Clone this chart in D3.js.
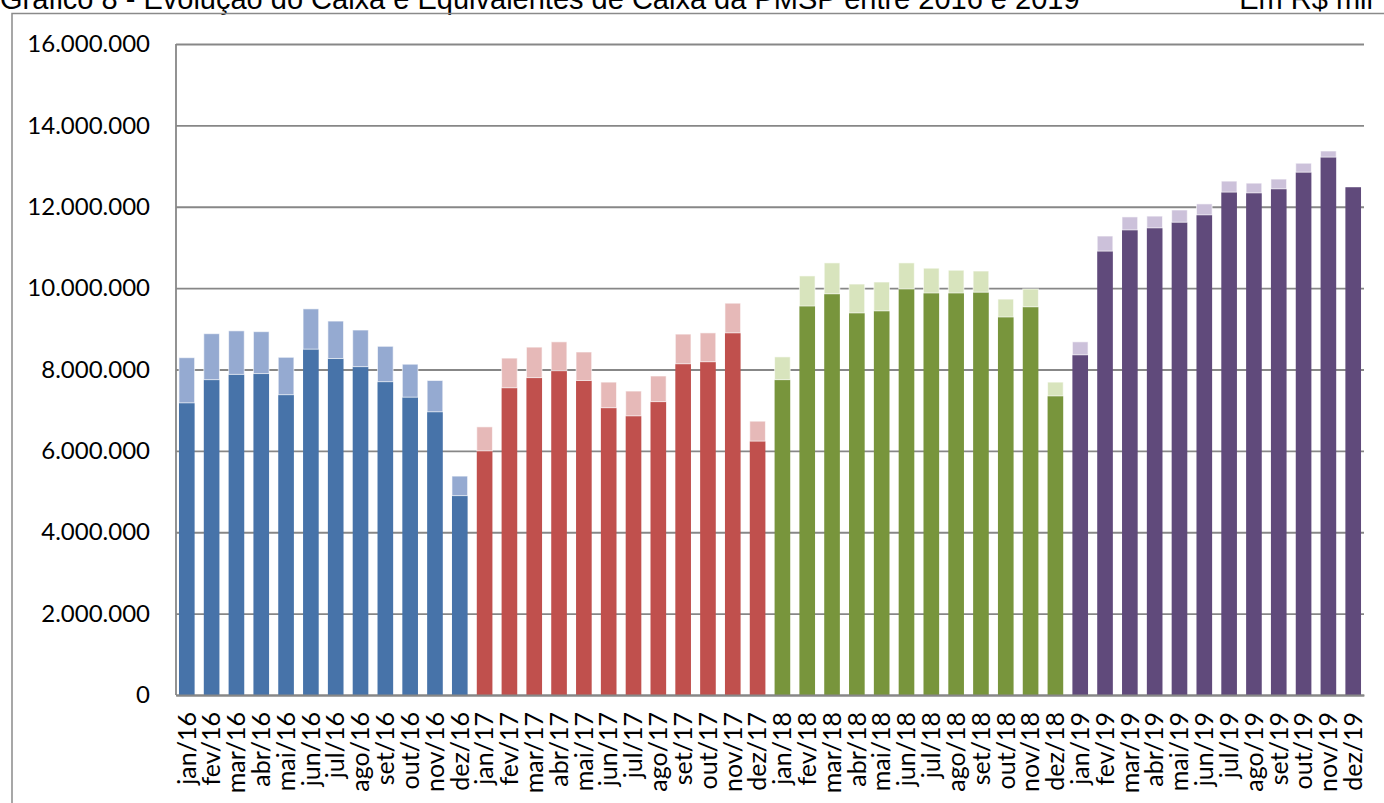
<!DOCTYPE html>
<html>
<head>
<meta charset="utf-8">
<script src="https://cdn.jsdelivr.net/npm/d3@7"></script>
<style>
  body { margin: 0; background: #fff; }
  svg { display: block; }
</style>
</head>
<body>
<div id="chart"></div>
<script>
// meses (jan/16 .. dez/19)
const months = ["jan", "fev", "mar", "abr", "mai", "jun", "jul", "ago", "set", "out", "nov", "dez"];
const years = ["16", "17", "18", "19"];
const categories = years.flatMap(y => months.map(m => `${m}/${y}`));

// parte escura da barra (R$ mil)
const caixa = [
    7180000, 7750000, 7880000, 7900000, 7380000, 8500000, 8270000, 8070000, 7700000, 7320000, 6960000, 4900000,
    6000000, 7550000, 7800000, 7970000, 7730000, 7060000, 6860000, 7210000, 8140000, 8190000, 8900000, 6240000,
    7750000, 9560000, 9860000, 9390000, 9440000, 9980000, 9880000, 9880000, 9900000, 9290000, 9540000, 7350000,
    8360000, 10910000, 11430000, 11480000, 11620000, 11800000, 12360000, 12340000, 12440000, 12850000, 13220000, 12480000
];
// parte clara empilhada por cima (R$ mil)
const equivalentes = [
    1110000, 1130000, 1070000, 1030000, 920000, 990000, 920000, 900000, 870000, 810000, 770000, 480000,
    590000, 730000, 750000, 710000, 700000, 630000, 610000, 630000, 730000, 710000, 730000, 490000,
    560000, 740000, 760000, 710000, 710000, 640000, 610000, 560000, 520000, 440000, 440000, 340000,
    320000, 370000, 320000, 290000, 300000, 270000, 270000, 240000, 240000, 220000, 150000, 0
];
const yTicks = [0, 2000000, 4000000, 6000000, 8000000, 10000000, 12000000, 14000000, 16000000];

const darkColors = ["#4773a9", "#c0504d", "#78953c", "#604a7b"];
const lightColors = ["#95aad1", "#e6b9b8", "#d8e4bd", "#ccc1da"];

const width = 1384, height = 803;
const margin = { top: 44, right: 20, bottom: 108, left: 176 };

const svg = d3.select("#chart").append("svg")
    .attr("width", width)
    .attr("height", height);

// title (cut off at the top, as in the original)
svg.append("text")
    .attr("x", 0)
    .attr("y", 9)
    .style("font-family", "'Liberation Sans', Arial, sans-serif")
    .style("font-size", "29px")
    .text("Gráfico 8 - Evolução do Caixa e Equivalentes de Caixa da PMSP entre 2016 e 2019");

svg.append("text")
    .attr("x", 1373)
    .attr("y", 9)
    .attr("text-anchor", "end")
    .style("font-family", "'Liberation Sans', Arial, sans-serif")
    .style("font-size", "29px")
    .text("Em R$ mil");

// chart frame
svg.append("rect")
    .attr("x", 12)
    .attr("y", 13.5)
    .attr("width", 1400)
    .attr("height", 820)
    .attr("fill", "none")
    .attr("stroke", "#8a8a8a")
    .attr("stroke-width", 1.5);

const x = d3.scaleBand()
    .domain(categories)
    .range([margin.left, width - margin.right])
    .paddingInner(0.37)
    .paddingOuter(0.12);

const y = d3.scaleLinear()
    .domain([0, 16000000])
    .range([height - margin.bottom, margin.top]);

const br = d3.formatLocale({ decimal: ",", thousands: ".", grouping: [3], currency: ["R$", ""] });
const fmt = br.format(",d");

// gridlines + y labels
const yAxis = svg.append("g")
    .attr("transform", `translate(${margin.left},0)`)
    .call(d3.axisLeft(y).tickValues(yTicks).tickFormat(fmt).tickSize(-(width - margin.right - margin.left)).tickPadding(26));
yAxis.select(".domain").remove();
yAxis.selectAll(".tick line")
    .attr("stroke", "#878787")
    .attr("stroke-width", 1.8);
yAxis.selectAll(".tick text")
    .style("font-family", "Lato, 'Open Sans', sans-serif")
    .style("font-size", "24px")
    .attr("fill", "#000");

// bars
const g = svg.append("g");
categories.forEach((c, i) => {
    const k = Math.floor(i / 12);
    g.append("rect")
        .attr("x", x(c))
        .attr("y", y(caixa[i]))
        .attr("width", x.bandwidth())
        .attr("height", y(0) - y(caixa[i]))
        .attr("fill", darkColors[k]);
    if (equivalentes[i] > 0) {
        g.append("rect")
            .attr("x", x(c))
            .attr("y", y(caixa[i] + equivalentes[i]))
            .attr("width", x.bandwidth())
            .attr("height", y(caixa[i]) - y(caixa[i] + equivalentes[i]))
            .attr("fill", lightColors[k])
            .attr("stroke", "#fff")
            .attr("stroke-opacity", 0.6)
            .attr("stroke-width", 1);
    }
});

// axis lines
svg.append("line")
    .attr("x1", margin.left).attr("x2", margin.left)
    .attr("y1", y(16000000)).attr("y2", y(0))
    .attr("stroke", "#878787").attr("stroke-width", 1.8);

const xAxis = svg.append("g")
    .attr("transform", `translate(0,${y(0)})`)
    .call(d3.axisBottom(x).tickSize(0).tickPadding(0));
xAxis.select(".domain")
    .attr("stroke", "#878787")
    .attr("stroke-width", 1.8);
xAxis.selectAll(".tick text")
    .attr("transform", "rotate(-90)")
    .attr("x", -17)
    .attr("y", 0)
    .attr("dy", "0.35em")
    .attr("text-anchor", "end")
    .attr("fill", "#000")
    .style("font-family", "Lato, 'Open Sans', sans-serif")
    .style("font-size", "25px");
</script>
</body>
</html>
